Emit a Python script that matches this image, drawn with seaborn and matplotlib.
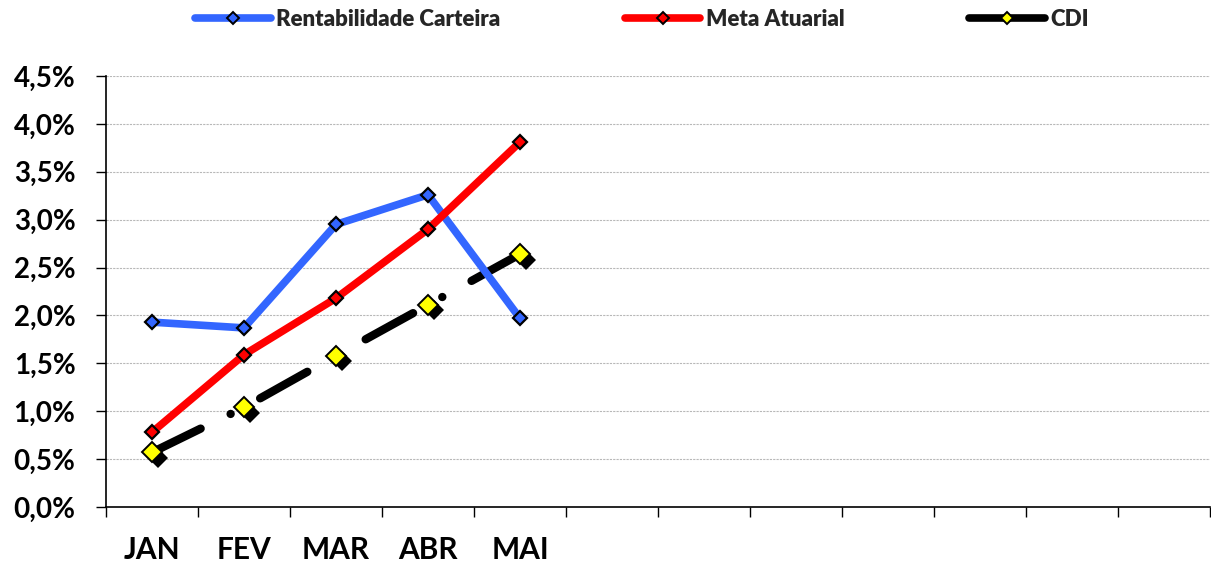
import numpy as np
import pandas as pd
import matplotlib
matplotlib.use("Agg")
import matplotlib.pyplot as plt
import matplotlib.patheffects as pe
from matplotlib.lines import Line2D
from matplotlib.ticker import FuncFormatter, MultipleLocator
import seaborn as sns

# ---- data ----
months = ["JAN", "FEV", "MAR", "ABR", "MAI"]
n_slots = 12
rentabilidade = [1.93, 1.87, 2.95, 3.26, 1.97]
meta_atuarial = [0.78, 1.59, 2.18, 2.90, 3.81]
cdi = [0.57, 1.04, 1.58, 2.11, 2.64]
series_names = ["Rentabilidade Carteira", "Meta Atuarial", "CDI"]

sns.set_theme(style="white")
plt.rcParams["font.family"] = ["Lato", "DejaVu Sans"]
plt.rcParams["font.weight"] = "bold"

BLUE = "#3366FF"
RED = "#FF0000"
YELLOW = "#FFFF00"

fig = plt.figure(figsize=(12.11, 5.65), dpi=100)
ax = fig.add_axes([106 / 1211, 1 - 507 / 565, (1210 - 106) / 1211, (507 - 76) / 565])

x = np.arange(len(months))
df = pd.DataFrame({"x": x, "rent": rentabilidade, "meta": meta_atuarial, "cdi": cdi})

# CDI dashed line (bottom)
sns.lineplot(data=df, x="x", y="cdi", ax=ax, color="black", lw=6,
             linestyle=(0, (6.5, 4.0, 0.01, 4.0)), dash_capstyle="round",
             zorder=2, legend=False)
# Rentabilidade
sns.lineplot(data=df, x="x", y="rent", ax=ax, color=BLUE, lw=5.5,
             marker="D", markersize=7.6, markerfacecolor=BLUE,
             markeredgecolor="black", markeredgewidth=1.6, zorder=3, legend=False)
# Meta
sns.lineplot(data=df, x="x", y="meta", ax=ax, color=RED, lw=5.5,
             marker="D", markersize=7.6, markerfacecolor=RED,
             markeredgecolor="black", markeredgewidth=1.6, zorder=4, legend=False)
# CDI markers with shadow
sns.lineplot(data=df, x="x", y="cdi", ax=ax, color="black", linestyle="none",
             marker="D", markersize=10.2, markerfacecolor=YELLOW,
             markeredgecolor="black", markeredgewidth=1.4, zorder=5, legend=False,
             path_effects=[pe.SimplePatchShadow(offset=(4, -4), shadow_rgbFace="black", alpha=1.0),
                           pe.Normal()])

# axes
ax.set_xlim(-0.5, n_slots - 0.5)
ax.set_ylim(0, 4.5)
ax.yaxis.set_major_locator(MultipleLocator(0.5))
ax.yaxis.set_major_formatter(FuncFormatter(lambda v, p: f"{v:.1f}".replace(".", ",") + "%"))
ax.set_xticks(np.arange(-0.5, n_slots, 1.0))
ax.set_xticklabels([])
ax.set_xticks(np.arange(n_slots), minor=True)
ax.set_xticklabels(months + [""] * (n_slots - len(months)), minor=True)
ax.tick_params(axis="x", which="major", direction="out", length=7, width=1, color="black", bottom=True)
ax.tick_params(axis="x", which="minor", length=0, pad=21, labelsize=21.5)
ax.tick_params(axis="y", direction="out", length=7, width=1, color="black", left=True,
               pad=15, labelsize=20)
for lab in ax.get_xticklabels(minor=True) + ax.get_yticklabels():
    lab.set_fontweight("bold")
    lab.set_color("black")

ax.grid(False)
ax.yaxis.grid(True, color="#b8b8b8", linestyle=(0, (2, 1)), linewidth=0.8)
ax.set_axisbelow(True)
for s in ["top", "right"]:
    ax.spines[s].set_visible(False)
for s in ["left", "bottom"]:
    ax.spines[s].set_color("black")
    ax.spines[s].set_linewidth(1.2)
ax.set_xlabel("")
ax.set_ylabel("")

# legend
colors = [BLUE, RED, "black"]
faces = [BLUE, RED, YELLOW]
handles = [Line2D([], [], color=c, lw=5.5, marker="D", markersize=6,
                  markerfacecolor=f, markeredgecolor="black", markeredgewidth=1.4,
                  solid_capstyle="round")
           for c, f in zip(colors, faces)]
leg = fig.legend(handles, series_names, loc="center left",
                 bbox_to_anchor=(195 / 1211, 1 - 19 / 565), ncol=3, frameon=False,
                 prop={"family": ["Lato", "DejaVu Sans"], "weight": "heavy", "size": 16},
                 handlelength=3.4, handletextpad=0.25, columnspacing=5.6,
                 borderpad=0, borderaxespad=0)

fig.savefig("out.png", dpi=100)
